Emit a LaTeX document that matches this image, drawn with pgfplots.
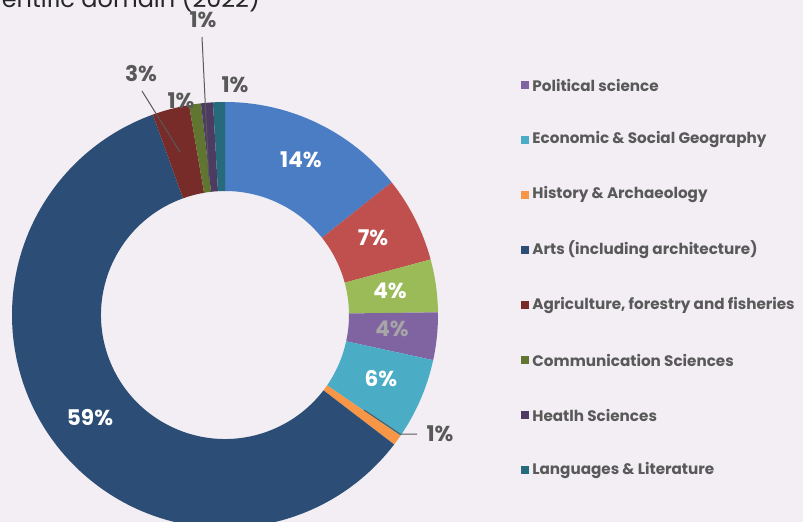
\documentclass[border=0pt]{standalone}
\usepackage{pgfplots}
\usepackage{pgfplotstable}
\pgfplotsset{compat=1.18}
\usepackage{fontspec}
\setmainfont{Poppins}
\definecolor{bg}{RGB}{242,238,244}
\definecolor{lab}{RGB}{89,89,89}
\definecolor{s0}{HTML}{4A7DC4}
\definecolor{s1}{HTML}{C0504D}
\definecolor{s2}{HTML}{9BBB59}
\definecolor{s3}{HTML}{8064A2}
\definecolor{s4}{HTML}{4BACC6}
\definecolor{s5}{HTML}{F79646}
\definecolor{s6}{HTML}{2C4D75}
\definecolor{s7}{HTML}{772C2A}
\definecolor{s8}{HTML}{5F7530}
\definecolor{s9}{HTML}{4D3B62}
\definecolor{s10}{HTML}{276A7C}
\pgfplotstableread{
value
14.3
6.5
4.0
3.6
6.2
0.8
59.1
2.8
0.9
0.9
0.9
}\slices
\newcommand\legitem[3]{%
  \fill[#2] (axis cs:521,#1-4) rectangle (axis cs:529,#1+4);
  \node[anchor=west,lab,inner sep=0pt] at (axis cs:532,#1) {#3};
}
\begin{document}
\begin{tikzpicture}
\gdef\cum{0}
\foreach \i in {0,...,10}{%
  \pgfplotstablegetelem{\i}{value}\of\slices
  \let\v\pgfplotsretval
  \pgfmathsetmacro\s{90-3.6*\cum}%
  \pgfmathsetmacro\e{90-3.6*(\cum+\v)}%
  \expandafter\xdef\csname sa\i\endcsname{\s}%
  \expandafter\xdef\csname ea\i\endcsname{\e}%
  \pgfmathsetmacro\nc{\cum+\v}%
  \xdef\cum{\nc}%
}
\begin{axis}[x=0.5pt,y=0.5pt,xmin=0,xmax=803,ymin=0,ymax=521,hide axis,clip=true]
\fill[bg] (axis cs:-5,-5) rectangle (axis cs:810,530);
\coordinate (C) at (axis cs:225,206);
\pgfplotsinvokeforeach{0,...,10}{
  \fill[s#1] ([shift={(C)}]\csname sa#1\endcsname:106.5pt)
    arc[start angle=\csname sa#1\endcsname, end angle=\csname ea#1\endcsname, radius=106.5pt]
    -- ([shift={(C)}]\csname ea#1\endcsname:62pt)
    arc[start angle=\csname ea#1\endcsname, end angle=\csname sa#1\endcsname, radius=62pt] -- cycle;
}
% leader lines
\draw[lab,line width=0.5pt] (axis cs:142,430) -- (axis cs:180,369);
\draw[lab,line width=0.5pt] (axis cs:202,484) -- (axis cs:209,341);
\draw[lab,line width=0.5pt] (axis cs:364,111) -- (axis cs:400,87) -- (axis cs:417,87);
% labels
\begin{scope}[font=\fontsize{10.8}{12}\selectfont\bfseries]
\node[white] at (axis cs:301,361) {14\%};
\node[white] at (axis cs:373,283) {7\%};
\node[white] at (axis cs:390,230) {4\%};
\node[color=black!35] at (axis cs:392,192) {4\%};
\node[white] at (axis cs:381,142) {6\%};
\node[white] at (axis cs:90,103) {59\%};
\node[lab] at (axis cs:440,87) {1\%};
\node[lab] at (axis cs:141,447) {3\%};
\node[lab] at (axis cs:181,420) {1\%};
\node[lab] at (axis cs:203,501) {1\%};
\node[lab] at (axis cs:235,436) {1\%};
\end{scope}
% title
\node[anchor=base east,font=\fontsize{12}{14}\selectfont,color=black!85] at (axis cs:267,513) {by scientific domain (2022)};
% legend
\begin{scope}[font=\fontsize{7.6}{9}\selectfont\bfseries]
\legitem{436}{s3}{Political science}
\legitem{381}{s4}{Economic \& Social Geography}
\legitem{326}{s5}{History \& Archaeology}
\legitem{271}{s6}{Arts (including architecture)}
\legitem{216}{s7}{Agriculture, forestry and fisheries}
\legitem{161}{s8}{Communication Sciences}
\legitem{106}{s9}{Heatlh Sciences}
\legitem{51}{s10}{Languages \& Literature}
\end{scope}
\coordinate (SW) at (axis cs:0,0);
\coordinate (NE) at (axis cs:803,521);
\end{axis}
\pgfresetboundingbox
\useasboundingbox (SW) rectangle (NE);
\end{tikzpicture}
\end{document}
